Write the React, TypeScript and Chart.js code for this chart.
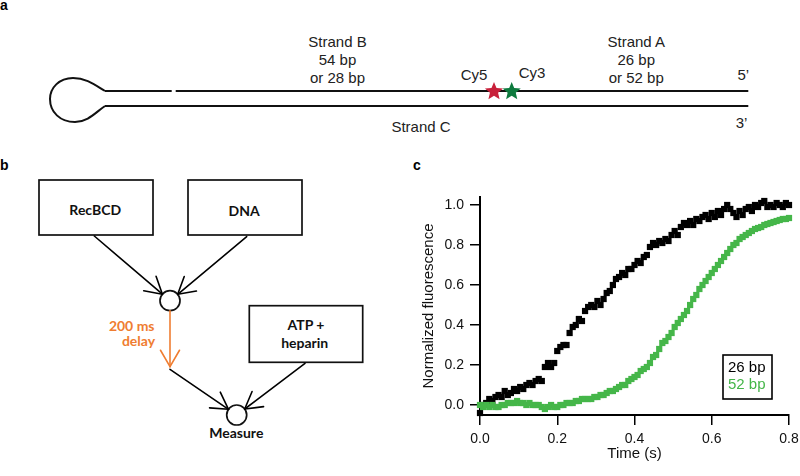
import React, { useEffect, useRef } from "react";
import { Chart, registerables } from "chart.js";

Chart.register(...registerables);

// ---- data (panel c) ----
const TIME_S = [
  0, 0.008, 0.016, 0.024, 0.032, 0.04, 0.048, 0.056, 0.064, 0.072, 0.08, 0.088, 0.096, 0.104, 0.112, 0.12,
  0.128, 0.136, 0.144, 0.152, 0.16, 0.168, 0.176, 0.184, 0.192, 0.2, 0.208, 0.216, 0.224, 0.232, 0.24,
  0.248, 0.256, 0.264, 0.272, 0.28, 0.288, 0.296, 0.304, 0.312, 0.32, 0.328, 0.336, 0.344, 0.352, 0.36,
  0.368, 0.376, 0.384, 0.392, 0.4, 0.408, 0.416, 0.424, 0.432, 0.44, 0.448, 0.456, 0.464, 0.472, 0.48,
  0.488, 0.496, 0.504, 0.512, 0.52, 0.528, 0.536, 0.544, 0.552, 0.56, 0.568, 0.576, 0.584, 0.592, 0.6,
  0.608, 0.616, 0.624, 0.632, 0.64, 0.648, 0.656, 0.664, 0.672, 0.68, 0.688, 0.696, 0.704, 0.712, 0.72,
  0.728, 0.736, 0.744, 0.752, 0.76, 0.768, 0.776, 0.784, 0.792, 0.8,
];

const FLUOR_26BP = [
  -0.04, 0.0, 0.01, 0.03, 0.02, 0.04, 0.05, 0.04, 0.07, 0.05, 0.06, 0.08, 0.07, 0.09, 0.08, 0.1,
  0.11, 0.1, 0.12, 0.13, 0.12, 0.19, 0.21, 0.19, 0.21, 0.27, 0.29, 0.3, 0.3, 0.36, 0.39,
  0.4, 0.43, 0.42, 0.47, 0.49, 0.5, 0.49, 0.52, 0.5, 0.53, 0.56, 0.57, 0.6, 0.63, 0.64,
  0.66, 0.65, 0.68, 0.68, 0.7, 0.72, 0.71, 0.74, 0.75, 0.79, 0.81, 0.8, 0.82, 0.81, 0.83,
  0.82, 0.85, 0.87, 0.85, 0.89, 0.91, 0.9, 0.92, 0.9, 0.93, 0.92, 0.94, 0.95, 0.93, 0.96,
  0.94, 0.97, 0.95, 0.98, 1.0, 0.98, 0.96, 0.94, 0.97, 0.95, 0.98, 0.99, 0.97, 1.0, 0.99,
  1.01, 1.02, 0.99, 1.0, 0.99, 1.01, 1.0, 0.99, 1.01, 1.0,
];

const FLUOR_52BP = [
  0.0, -0.01, 0.0, -0.01, 0.0, -0.01, -0.01, 0.0, 0.0, 0.01, 0.01, 0.01, 0.02, 0.01, 0.01, 0.0,
  0.01, 0.0, 0.0, 0.0, -0.01, -0.02, -0.01, 0.0, -0.01, -0.01, 0.0, 0.0, 0.01, 0.01, 0.01,
  0.02, 0.02, 0.03, 0.03, 0.03, 0.03, 0.04, 0.04, 0.05, 0.05, 0.06, 0.07, 0.07, 0.08, 0.09,
  0.1, 0.1, 0.12, 0.13, 0.14, 0.15, 0.17, 0.18, 0.19, 0.21, 0.24, 0.25, 0.28, 0.31, 0.32,
  0.34, 0.36, 0.39, 0.41, 0.43, 0.45, 0.47, 0.5, 0.53, 0.55, 0.58, 0.6, 0.62, 0.64, 0.66,
  0.68, 0.7, 0.72, 0.74, 0.76, 0.78, 0.8, 0.81, 0.83, 0.84, 0.85, 0.86, 0.87, 0.88, 0.885,
  0.89, 0.9, 0.905, 0.91, 0.915, 0.92, 0.925, 0.93, 0.93, 0.935,
];

const SERIES_LABELS = ["26 bp", "52 bp"];
const SERIES_COLORS = ["#000000", "#45b649"];
const X_TITLE = "Time (s)";
const Y_TITLE = "Normalized fluorescence";

const FONT = "'Liberation Sans', Arial, sans-serif";
const BFONT = "Lato, 'Open Sans', sans-serif";

function starPath(cx: number, cy: number, r: number) {
  const pts: string[] = [];
  for (let k = 0; k < 10; k++) {
    const rr = k % 2 === 0 ? r : r * 0.45;
    const a = (-90 + k * 36) * (Math.PI / 180);
    pts.push(`${(cx + rr * Math.cos(a)).toFixed(2)},${(cy + rr * Math.sin(a)).toFixed(2)}`);
  }
  return "M" + pts.join("L") + "Z";
}

function Arrow({ x1, y1, x2, y2, color = "#000" }: any) {
  const ang = Math.atan2(y2 - y1, x2 - x1);
  const L = 19;
  const h = (30 * Math.PI) / 180;
  const a1 = ang + Math.PI - h;
  const a2 = ang + Math.PI + h;
  return (
    <g stroke={color} strokeWidth={1.6} fill="none" strokeLinecap="round">
      <line x1={x1} y1={y1} x2={x2} y2={y2} />
      <line x1={x2} y1={y2} x2={x2 + L * Math.cos(a1)} y2={y2 + L * Math.sin(a1)} />
      <line x1={x2} y1={y2} x2={x2 + L * Math.cos(a2)} y2={y2 + L * Math.sin(a2)} />
    </g>
  );
}

function Diagrams() {
  const t = { fontFamily: FONT, fontSize: 15, fill: "#222" } as any;
  const b = { fontFamily: BFONT, fontSize: 14, fontWeight: 700, fill: "#111" } as any;
  return (
    <svg width={800} height={476} style={{ position: "absolute", left: 0, top: 0 }}>
      {/* panel labels */}
      <text x={0} y={9.5} fontFamily={FONT} fontSize={14} fontWeight={700}>a</text>
      <text x={0} y={170} fontFamily={FONT} fontSize={14} fontWeight={700}>b</text>
      <text x={413} y={169.5} fontFamily={FONT} fontSize={14} fontWeight={700}>c</text>

      {/* panel a: DNA */}
      <g stroke="#111" strokeWidth={2} fill="none">
        <path d="M105,91 C95,85 86,78 73,78 C59,78 50,88 50,99 C50,112 60,122 75,122 C88,122 96,112 105,106" />
        <line x1={105} y1={91} x2={171.7} y2={91} />
        <line x1={175.7} y1={91} x2={748.3} y2={91} />
        <line x1={105} y1={106} x2={748.3} y2={106} />
      </g>
      <path d={starPath(494, 91.5, 9.5)} fill="#c8203a" />
      <path d={starPath(511.7, 91.5, 9.5)} fill="#0d7a3e" />
      <g {...t} textAnchor="middle">
        <text x={337.5} y={46.5}>Strand B</text>
        <text x={337.5} y={64.5}>54 bp</text>
        <text x={337.5} y={82.5}>or 28 bp</text>
        <text x={636.3} y={46.5}>Strand A</text>
        <text x={636.3} y={64.5}>26 bp</text>
        <text x={636.3} y={82.5}>or 52 bp</text>
        <text x={474} y={80}>Cy5</text>
        <text x={532} y={78.3}>Cy3</text>
        <text x={743.3} y={80}>5’</text>
        <text x={741.5} y={128.3}>3’</text>
        <text x={421} y={131.7}>Strand C</text>
      </g>

      {/* panel b: flow */}
      <g stroke="#111" strokeWidth={1.7} fill="none">
        <rect x={39} y={180} width={114} height={55} />
        <rect x={188} y={180} width={114} height={55} />
        <rect x={249.3} y={305.7} width={113.4} height={56.6} />
        <circle cx={170} cy={300.7} r={10} />
        <circle cx={236.7} cy={415} r={10} />
      </g>
      <Arrow x1={94.3} y1={236} x2={162.4} y2={294.2} />
      <Arrow x1={246.7} y1={236.7} x2={177.7} y2={294.3} />
      <Arrow x1={170} y1={310.7} x2={170} y2={366.7} color="#ef7d31" />
      <Arrow x1={170} y1={369.3} x2={228.5} y2={409.3} />
      <Arrow x1={305} y1={363.3} x2={244.7} y2={409} />
      <g {...b} textAnchor="middle">
        <text x={95.3} y={215}>RecBCD</text>
        <text x={244.2} y={215.7}>DNA</text>
        <text x={306} y={330}>ATP +</text>
        <text x={304.7} y={348}>heparin</text>
        <text x={236.3} y={438}>Measure</text>
        <text x={131.7} y={330.7} fill="#ef7d31">200 ms</text>
        <text x={138.5} y={346} fill="#ef7d31">delay</text>
      </g>
    </svg>
  );
}

const boxLegend = {
  id: "boxLegend",
  afterDraw(chart: any) {
    const { ctx, chartArea } = chart;
    const w = 49;
    const h = 44;
    const x = chartArea.right - 17 - w;
    const y = chartArea.bottom - 16 - h;
    ctx.save();
    ctx.fillStyle = "#fff";
    ctx.fillRect(x, y, w, h);
    ctx.strokeStyle = "#000";
    ctx.lineWidth = 1.6;
    ctx.strokeRect(x, y, w, h);
    ctx.font = `15px ${FONT}`;
    ctx.textBaseline = "middle";
    ctx.textAlign = "left";
    chart.data.datasets.forEach((ds: any, i: number) => {
      ctx.fillStyle = ds.backgroundColor;
      ctx.fillText(ds.label, x + 5, y + 13 + i * 17);
    });
    ctx.restore();
  },
};

function FluorChart() {
  const ref = useRef<HTMLCanvasElement | null>(null);
  useEffect(() => {
    if (!ref.current) return;
    const fmt = (v: any) => Number(v).toFixed(1);
    const chart = new Chart(ref.current, {
      type: "scatter",
      data: {
        datasets: [
          {
            label: SERIES_LABELS[0],
            data: TIME_S.map((t, i) => ({ x: t, y: FLUOR_26BP[i] })),
            backgroundColor: SERIES_COLORS[0],
            borderColor: SERIES_COLORS[0],
            borderWidth: 0,
            pointStyle: "rect",
            pointRadius: 4.4,
            order: 1,
            clip: false,
          },
          {
            label: SERIES_LABELS[1],
            data: TIME_S.map((t, i) => ({ x: t, y: FLUOR_52BP[i] })),
            backgroundColor: SERIES_COLORS[1],
            borderColor: SERIES_COLORS[1],
            borderWidth: 0,
            pointStyle: "rect",
            pointRadius: 4.4,
            order: 0,
            clip: false,
          },
        ],
      } as any,
      options: {
        animation: false,
        responsive: false,
        devicePixelRatio: 1,
        layout: { padding: { top: 17, right: 11, bottom: 11, left: 20 } },
        plugins: { legend: { display: false }, tooltip: { enabled: false } },
        scales: {
          x: {
            type: "linear",
            min: 0,
            max: 0.8,
            afterFit: (s: any) => {
              s.height = 50;
              s.paddingLeft = 0;
              s.paddingRight = 0;
            },
            ticks: { stepSize: 0.2, includeBounds: false, callback: fmt, color: "#111", padding: 6, maxRotation: 0, font: { family: FONT, size: 14 } },
            grid: { drawOnChartArea: false, drawTicks: true, tickLength: 10, color: "#000", lineWidth: 1.5 },
            border: { display: true, color: "#000", width: 2 },
            title: { display: true, text: X_TITLE, color: "#111", padding: { top: 0, bottom: 2 }, font: { family: FONT, size: 15 } },
          },
          y: {
            type: "linear",
            min: -0.05,
            max: 1.04,
            afterFit: (s: any) => {
              s.width = 60;
              s.paddingTop = 0;
              s.paddingBottom = 0;
            },
            ticks: { stepSize: 0.2, includeBounds: false, callback: fmt, color: "#111", padding: 6, font: { family: FONT, size: 14 } },
            grid: { drawOnChartArea: false, drawTicks: true, tickLength: 10, color: "#000", lineWidth: 1.5 },
            border: { display: true, color: "#000", width: 2 },
            title: { display: true, text: Y_TITLE, color: "#111", padding: { top: 0, bottom: 0 }, font: { family: FONT, size: 15 } },
          },
        },
      } as any,
      plugins: [boxLegend],
    });
    return () => chart.destroy();
  }, []);
  return (
    <canvas
      ref={ref}
      width={400}
      height={296}
      style={{ position: "absolute", left: 400, top: 180, width: 400, height: 296 }}
    />
  );
}

export default function App() {
  return (
    <div style={{ position: "absolute", left: 0, top: 0, width: 800, height: 476, background: "#fff", overflow: "hidden" }}>
      <Diagrams />
      <FluorChart />
    </div>
  );
}
